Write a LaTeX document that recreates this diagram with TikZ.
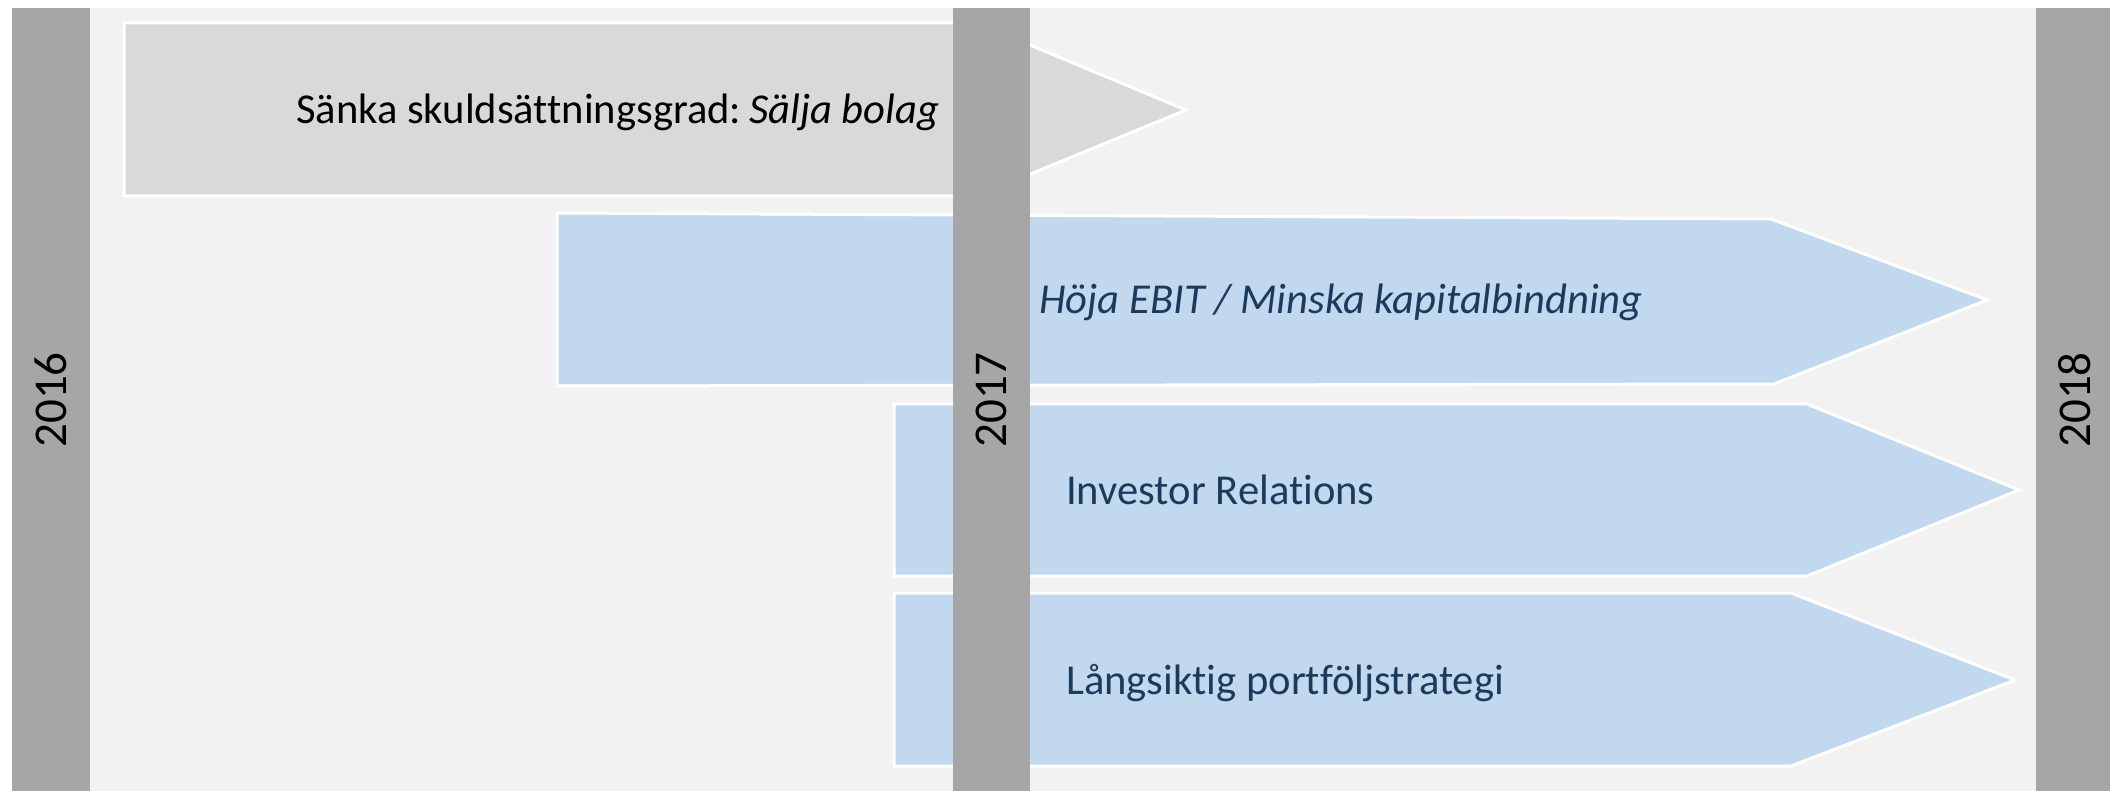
\documentclass[tikz,border=0pt]{standalone}
\usepackage{fontspec}
\setmainfont{Carlito}[Ligatures=NoCommon]
\definecolor{bgc}{HTML}{F2F2F2}
\definecolor{barc}{HTML}{A6A6A6}
\definecolor{grayshape}{HTML}{D9D9D9}
\definecolor{blueshape}{HTML}{C2D8EE}
\definecolor{bluetext}{HTML}{1B3A5C}
\tikzset{
  arrowshape/.style={line width=3pt, draw=white, line join=miter},
  yearbar/.style={fill=barc, draw=none},
  lbl/.style={anchor=base west, inner sep=0pt, font=\fontsize{42.6}{51}\selectfont},
  yearlbl/.style={rotate=90, inner sep=0pt, font=\fontsize{47}{55}\selectfont, text=black}
}
\begin{document}
\begin{tikzpicture}[x=1pt,y=-1pt]
\useasboundingbox (0,0) rectangle (2110,791);
\fill[white] (0,0) rectangle (2110,791);
\fill[bgc] (12,8) rectangle (2110,791);
% shapes
\path[arrowshape, fill=grayshape] (124,23) -- (977,23) -- (1186,110) -- (977,196) -- (124,196) -- cycle;
\path[arrowshape, fill=blueshape] (557,213) -- (1771,219) -- (1987,300) -- (1774,384) -- (557,386) -- cycle;
\path[arrowshape, fill=blueshape] (894,404) -- (1807,404) -- (2019,490) -- (1807,576) -- (894,576) -- cycle;
\path[arrowshape, fill=blueshape] (894,593) -- (1791,593) -- (2015,680) -- (1791,766) -- (894,766) -- cycle;
% bars
\path[yearbar] (12,8) rectangle (90,791);
\path[yearbar] (953,8) rectangle (1030,791);
\path[yearbar] (2036,8) rectangle (2110,791);
% labels
\node[lbl, text=black] (t1) at (296,124) {Sänka skuldsättningsgrad:\hspace{8pt}\textit{Sälja bolag}};
\node[lbl, text=bluetext] (t2) at (1039,314) {\textit{Höja EBIT / Minska kapitalbindning}};
\node[lbl, text=bluetext] (t3) at (1066,504) {Investor Relations};
\node[lbl, text=bluetext] (t4) at (1066,694) {Långsiktig portföljstrategi};
\node[yearlbl] (y1) at (51,400) {2016};
\node[yearlbl] (y2) at (991,400) {2017};
\node[yearlbl] (y3) at (2075,400) {2018};
\end{tikzpicture}
\end{document}
